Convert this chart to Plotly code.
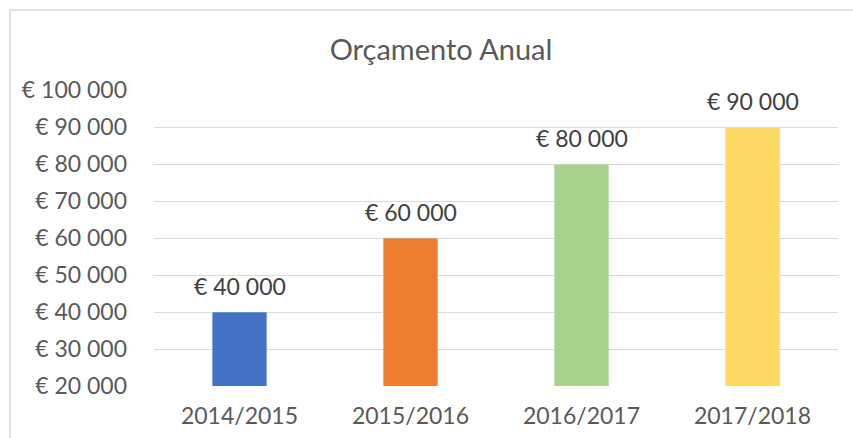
import plotly.graph_objects as go

categories = ["2014/2015", "2015/2016", "2016/2017", "2017/2018"]
values = [40000, 60000, 80000, 90000]
colors = ["#4472C4", "#ED7D31", "#A9D18E", "#FFD966"]
tick_values = [20000, 30000, 40000, 50000, 60000, 70000, 80000, 90000, 100000]


def eur(v):
    return "€ " + f"{v:,}".replace(",", " ")


tick_labels = [eur(v) for v in tick_values]

FONT = "Lato"
W, H = 853, 438
L, R, T, B = 154, 15, 90, 52
pw = W - L - R
ph = H - T - B

fig = go.Figure()
fig.add_trace(go.Bar(
    x=categories, y=values, marker_color=colors, width=0.32,
    hoverinfo="skip", showlegend=False,
))
for c, v in zip(categories, values):
    fig.add_annotation(x=c, y=v, text=eur(v), showarrow=False, yanchor="bottom",
                       yshift=10, font=dict(family=FONT, size=23, color="#404040"))

# chart border (top and left visible)
fig.add_shape(type="line", xref="paper", yref="paper",
              x0=(10 - L) / pw, x1=(W + 20 - L) / pw,
              y0=(H - B - 10) / ph, y1=(H - B - 10) / ph,
              line=dict(color="#D9D9D9", width=1.5))
fig.add_shape(type="line", xref="paper", yref="paper",
              x0=(10 - L) / pw, x1=(10 - L) / pw,
              y0=(H - B - 10) / ph, y1=-(B + 20) / ph,
              line=dict(color="#D9D9D9", width=1.5))

fig.update_layout(
    width=W, height=H,
    margin=dict(l=L, r=R, t=T, b=B),
    paper_bgcolor="white", plot_bgcolor="white",
    title=dict(text="Orçamento Anual", x=(441 - L) / pw, xref="paper", xanchor="center",
               y=1 - 50 / H, yanchor="middle",
               font=dict(family=FONT, size=29, color="#595959")),
    bargap=0.68,
    xaxis=dict(showgrid=False, showline=False, ticks="", ticklabelstandoff=14,
               automargin=False,
               tickfont=dict(family=FONT, size=23, color="#595959")),
    yaxis=dict(range=[20000, 100000], tickvals=tick_values, ticktext=tick_labels,
               showgrid=True, gridcolor="#D9D9D9", gridwidth=1.3, automargin=False,
               zeroline=False, showline=False, ticks="", ticklabelstandoff=26,
               tickfont=dict(family=FONT, size=23, color="#595959")),
)
fig.write_html("out.html")
